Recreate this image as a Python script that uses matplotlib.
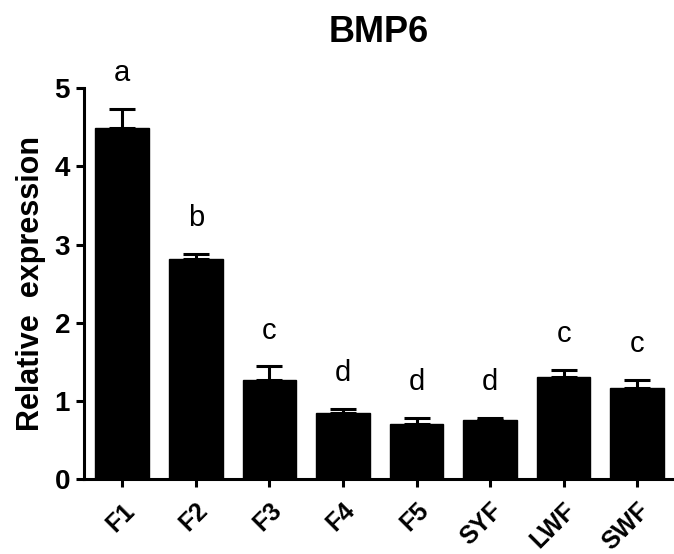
import numpy as np
import matplotlib
matplotlib.use('Agg')
import matplotlib.pyplot as plt

plt.rcParams['font.family'] = ['Liberation Sans', 'DejaVu Sans']

# Data
groups = ['F1', 'F2', 'F3', 'F4', 'F5', 'SYF', 'LWF', 'SWF']
means = [4.49, 2.82, 1.27, 0.84, 0.71, 0.75, 1.30, 1.17]
errors = [0.25, 0.06, 0.17, 0.06, 0.07, 0.03, 0.10, 0.10]
letters = ['a', 'b', 'c', 'd', 'd', 'd', 'c', 'c']

x = np.arange(len(groups))

fig = plt.figure(figsize=(6.74, 5.54), dpi=100)
ax = fig.add_axes([0.1246, 0.1354, 0.8754, 0.7052])

ax.bar(x, means, width=0.73, color='black', edgecolor='black', zorder=2)
ax.errorbar(x, means, yerr=[np.zeros(len(means)), errors], fmt='none',
            ecolor='black', elinewidth=2.2, capsize=9.5, capthick=2.2, zorder=1)

for xi, m, e, lab in zip(x, means, errors, letters):
    ax.text(xi, m + e + 0.28, lab, ha='center', va='bottom', fontsize=21)

ax.set_xlim(-0.52, 7.5)
ax.set_ylim(0, 5)
ax.set_yticks([0, 1, 2, 3, 4, 5])
ax.set_xticks(x)
ax.set_xticklabels(groups, rotation=45, ha='right', rotation_mode='anchor',
                   fontsize=18, fontweight='bold')
for lbl in ax.get_yticklabels():
    lbl.set_fontweight('bold')
ax.tick_params(axis='y', labelsize=20, width=2.2, length=6, pad=4)
ax.tick_params(axis='x', width=2.2, length=6, pad=8)

ax.spines['top'].set_visible(False)
ax.spines['right'].set_visible(False)
ax.spines['left'].set_linewidth(2.2)
ax.spines['bottom'].set_linewidth(2.2)

ax.set_ylabel('Relative  expression', fontsize=22, fontweight='bold', labelpad=6)
ax.set_title('BMP6', fontsize=26, fontweight='bold', pad=33)

fig.savefig('out.png', dpi=100)
